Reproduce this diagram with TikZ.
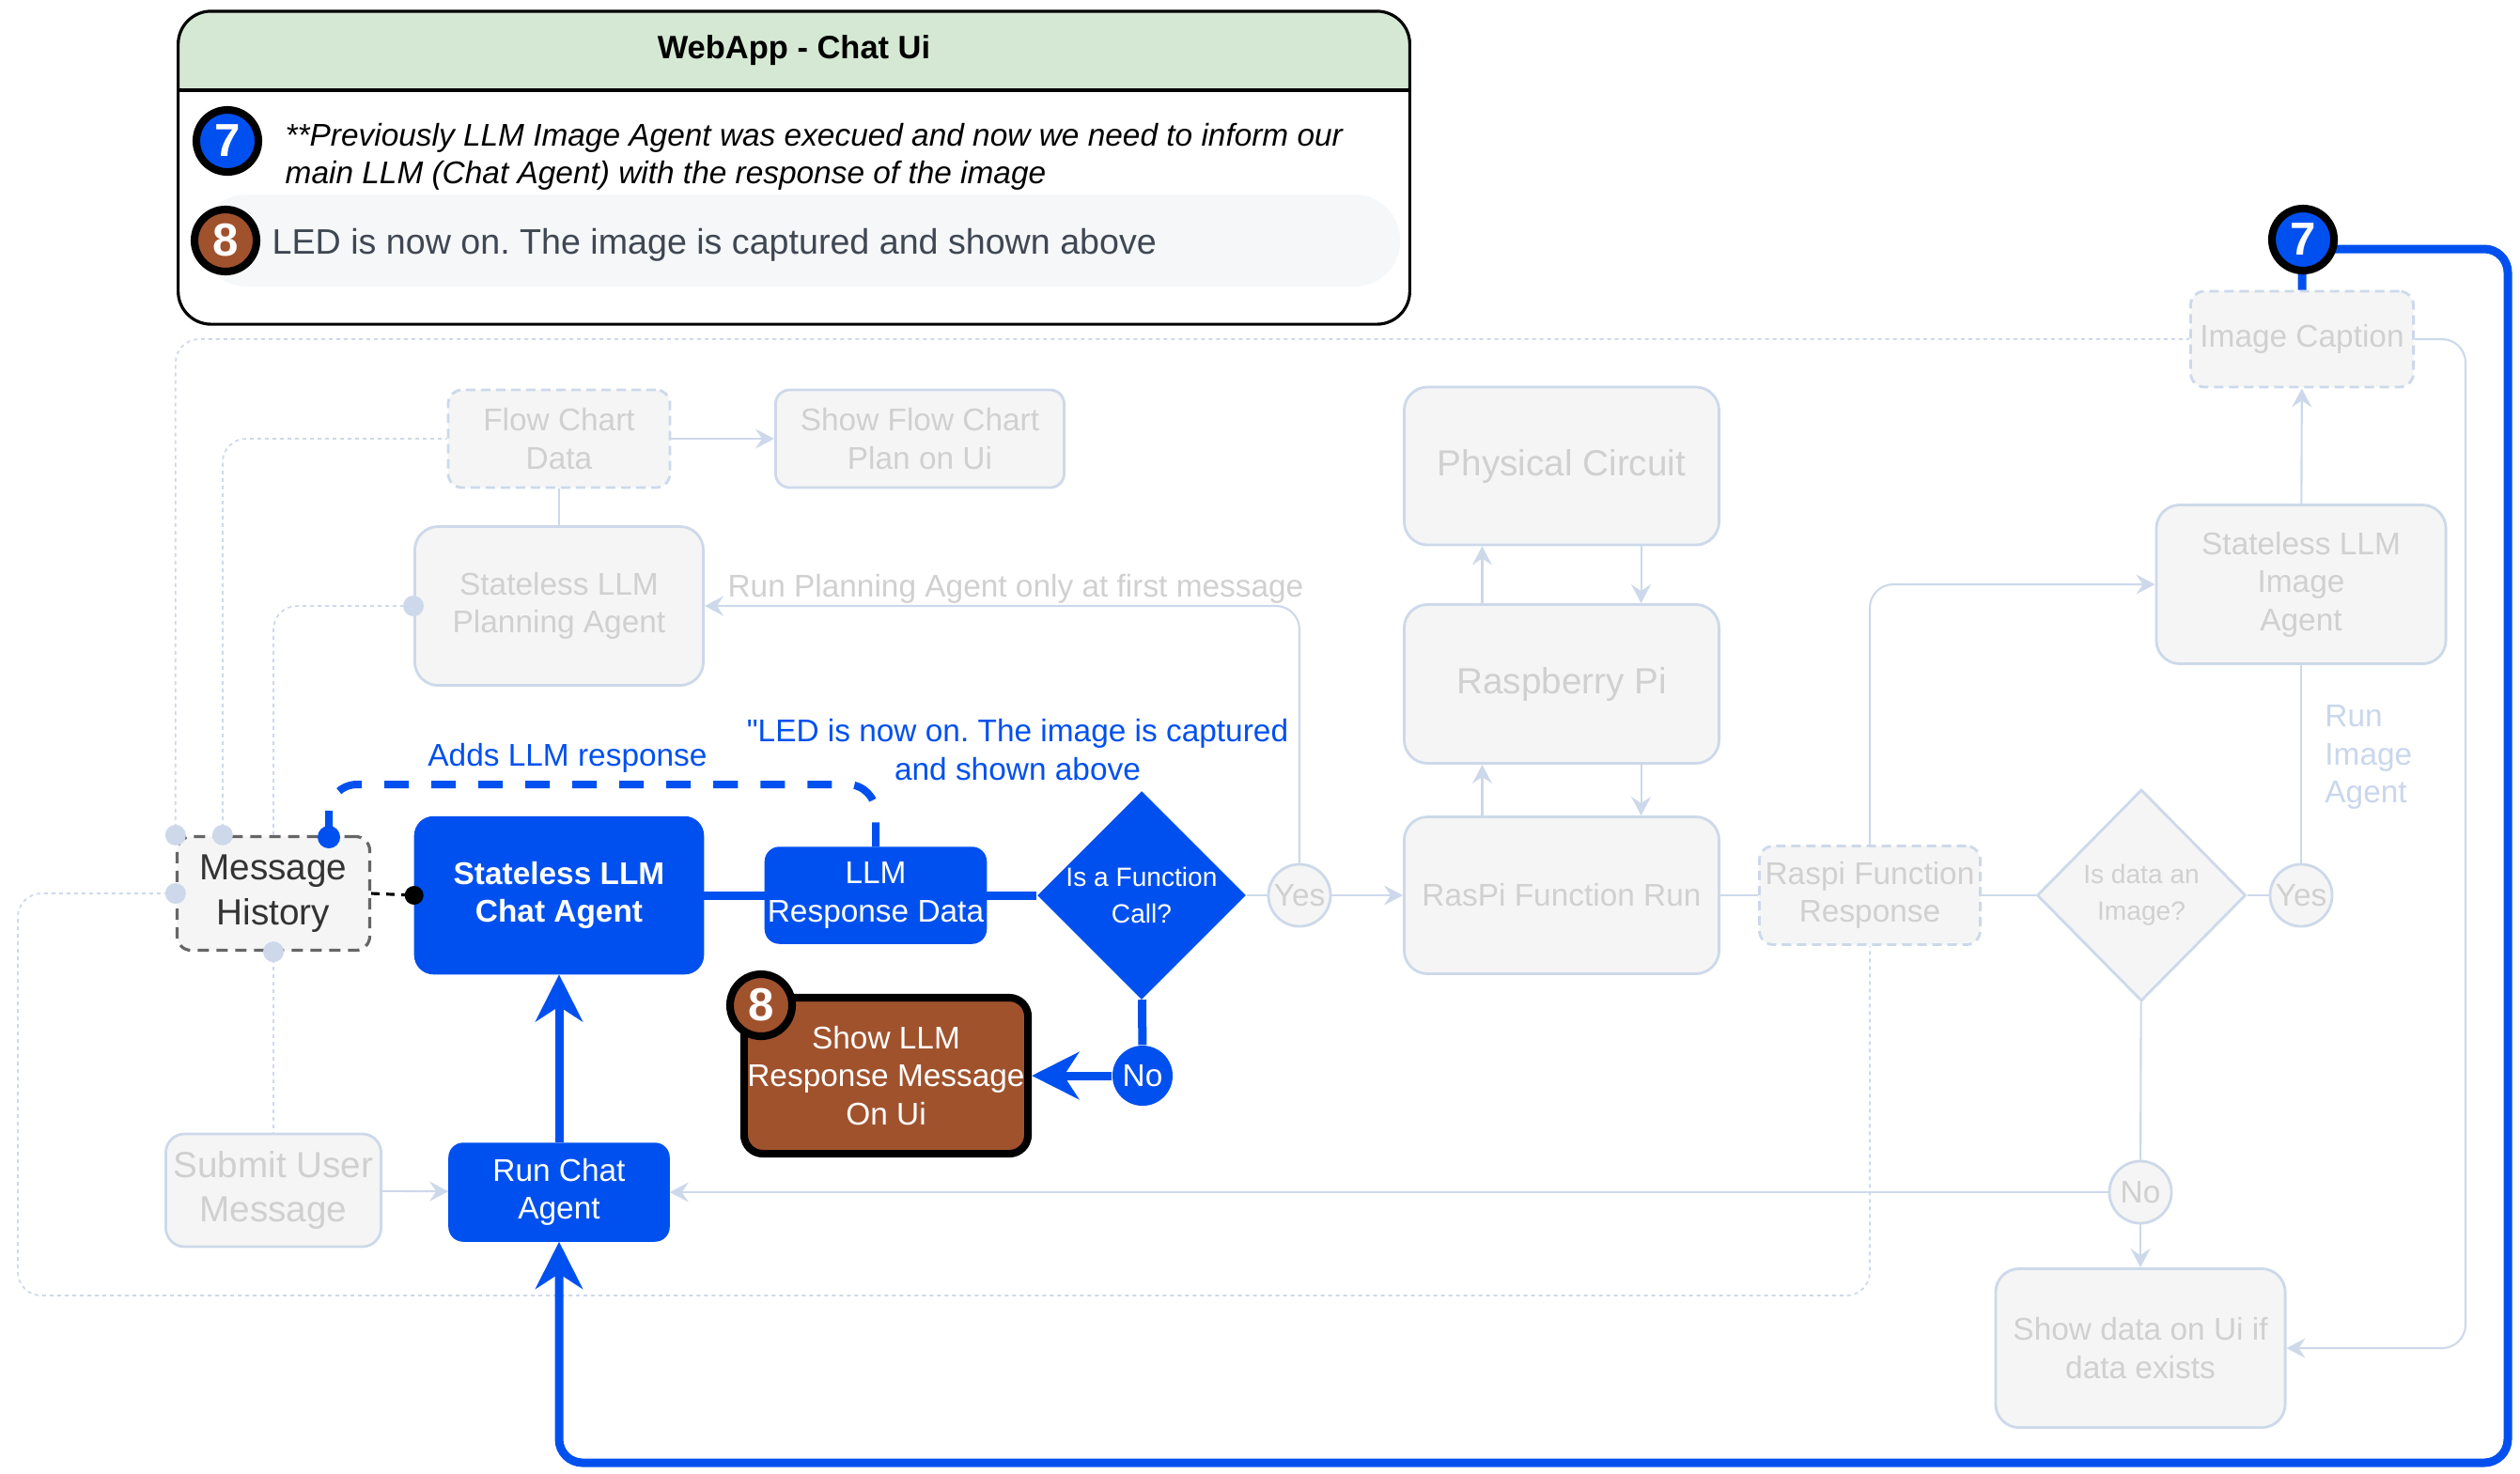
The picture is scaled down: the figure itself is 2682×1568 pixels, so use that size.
\documentclass[tikz,border=0pt]{standalone}
\usepackage{fontspec}
\setmainfont{Liberation Sans}
\usetikzlibrary{arrows.meta, shapes.geometric}
\definecolor{chatblue}{HTML}{0050EF}
\definecolor{rustbrown}{HTML}{A0522D}
\definecolor{headgreen}{HTML}{D5E8D4}
\definecolor{fadeline}{HTML}{CDD9EA}
\definecolor{fadefill}{HTML}{F5F5F5}
\definecolor{fadetext}{HTML}{D0D0D0}
\definecolor{fadeblue}{HTML}{C9D7EC}
\definecolor{pillgrey}{HTML}{F6F7F9}
\definecolor{pilltext}{HTML}{3F4753}
\newcommand\smalltxt{\fontsize{9.5}{11.5}\selectfont}
\newcommand\bigtxt{\fontsize{11}{13.5}\selectfont}
\newcommand\tinytxt{\fontsize{8}{11}\selectfont}
\frenchspacing
\tikzset{
fadebox/.style={draw=fadeline, fill=fadefill, text=fadetext, line width=0.8pt, rounded corners=0.25cm, align=center, inner sep=0, font=\smalltxt},
fadedash/.style={fadebox, dash pattern=on 0.1cm off 0.06cm, rounded corners=0.15cm},
bluebox/.style={fill=chatblue, draw=chatblue, text=white, rounded corners=0.2cm, align=center, inner sep=0, font=\smalltxt},
histbox/.style={draw=black!60, fill=fadefill, text=black!80, line width=0.9pt, dash pattern=on 0.12cm off 0.08cm, rounded corners=0.15cm, align=center, inner sep=0, font=\bigtxt},
showbox/.style={fill=rustbrown, draw=black, line width=2.3pt, text=white, rounded corners=0.2cm, align=center, inner sep=0, font=\smalltxt},
fadecirc/.style={circle, draw=fadeline, fill=fadefill, text=fadetext, line width=0.8pt, minimum size=0.66cm, inner sep=0, font=\smalltxt},
fadediam/.style={diamond, draw=fadeline, fill=fadefill, line width=0.8pt, inner sep=0},
badge/.style={circle, draw=black, line width=2.3pt, minimum size=0.66cm, inner sep=0, text=white, font=\bfseries\fontsize{14}{14}\selectfont},
faint/.style={draw=fadeline, line width=0.6pt},
faintarrow/.style={faint, -{Stealth[length=2mm,width=2.1mm,inset=0.7mm]}},
faintdot/.style={draw=fadeline, line width=0.5pt, dash pattern=on 0.04cm off 0.04cm},
thickblue/.style={draw=chatblue, line width=0.9mm},
bigarrow/.style={thickblue, -{Stealth[length=5mm,width=5mm,inset=1.6mm]}}
}
\begin{document}
\begin{tikzpicture}[x=0.01cm, y=-0.01cm]
\useasboundingbox (0,0) rectangle (2682,1568);

\begin{scope}
\clip (190,12) rectangle (1500,96);
\fill[headgreen, rounded corners=0.35cm] (190,12) rectangle (1500,345);
\end{scope}
\fill[pillgrey, rounded corners=0.48cm] (214,207) rectangle (1490,305);
\node[draw, line width=0.9pt, rounded corners=0.35cm, minimum width=13.1cm, minimum height=3.33cm] (webapp) at (845,178.5) {};
\draw[line width=0.9pt] (webapp.west |- 0,96) -- (webapp.east |- 0,96);
\node[font=\bfseries\fontsize{9.8}{12}\selectfont] (title) at (845,54) {WebApp - Chat Ui};
\node[badge, fill=chatblue] (noteseven) at (242,150) {7};
\node[anchor=west, align=left, inner sep=0, font=\itshape\smalltxt] (notetext) at (303,167) {**Previously LLM Image Agent was execued and now we need to inform our\\main LLM (Chat Agent) with the response of the image};
\node[badge, fill=rustbrown] (noteeight) at (240,256) {8};
\node[anchor=west, inner sep=0, text=pilltext, font=\fontsize{10.7}{13}\selectfont] (notereply) at (289,261) {LED is now on. The image is captured and shown above};

\node[fadedash, minimum width=2.36cm, minimum height=1.04cm] (flowdata) at (595,467) {Flow Chart\\Data};
\node[fadebox, minimum width=3.07cm, minimum height=1.04cm, rounded corners=0.15cm] (showplan) at (979,467) {Show Flow Chart\\Plan on Ui};
\node[fadebox, minimum width=3.07cm, minimum height=1.69cm] (planagent) at (595,645) {Stateless LLM\\Planning Agent};
\node[histbox, minimum width=2.05cm, minimum height=1.21cm] (msghist) at (291,951) {Message\\History};
\node[bluebox, font=\smalltxt\bfseries, minimum width=3.07cm, minimum height=1.67cm] (chatagent) at (595,953) {Stateless LLM\\Chat Agent};
\node[bluebox, minimum width=2.35cm, minimum height=1.02cm, rounded corners=0.15cm] (llmdata) at (932,953) {LLM\\Response Data};
\node[diamond, fill=chatblue, minimum width=2.22cm, minimum height=2.22cm, inner sep=0, label={[text=white, font=\tinytxt, align=center]center:{Is a Function\\Call?}}] (isfunc) at (1215,953) {};
\node[circle, fill=chatblue, minimum size=0.64cm, inner sep=0, text=white, font=\smalltxt] (nofunc) at (1216,1145) {No};
\node[showbox, minimum width=3.02cm, minimum height=1.66cm] (showllm) at (943,1145) {Show LLM\\Response Message\\On Ui};
\node[bluebox, minimum width=2.34cm, minimum height=1.04cm, rounded corners=0.15cm] (runchat) at (595,1269) {Run Chat\\Agent};
\node[fadebox, font=\bigtxt, minimum width=2.29cm, minimum height=1.2cm, rounded corners=0.2cm] (submit) at (291,1267) {Submit User\\Message};
\node[fadecirc] (yesfunc) at (1383,953) {Yes};
\node[fadebox, font=\bigtxt, minimum width=3.35cm, minimum height=1.68cm] (circuit) at (1662,496) {Physical Circuit};
\node[fadebox, font=\bigtxt, minimum width=3.35cm, minimum height=1.69cm] (raspi) at (1662,728) {Raspberry Pi};
\node[fadebox, minimum width=3.35cm, minimum height=1.67cm] (rasrun) at (1662,953) {RasPi Function Run};
\node[fadedash, minimum width=2.35cm, minimum height=1.05cm] (rasresp) at (1990,953) {Raspi Function\\Response};
\node[fadediam, minimum width=2.22cm, minimum height=2.25cm, label={[text=fadetext, font=\tinytxt, align=center]center:{Is data an\\Image?}}] (isimage) at (2279,953) {};
\node[fadecirc] (yesimage) at (2449,953) {Yes};
\node[fadecirc] (noimage) at (2278,1269) {No};
\node[fadebox, minimum width=3.08cm, minimum height=1.69cm] (showdata) at (2278,1435) {Show data on Ui if\\data exists};
\node[fadebox, minimum width=3.08cm, minimum height=1.69cm] (imgagent) at (2449,622) {Stateless LLM\\Image\\Agent};
\node[fadedash, minimum width=2.37cm, minimum height=1.02cm] (caption) at (2450,361) {Image Caption};
\coordinate (histdot) at (350,891);

\draw[faintdot, rounded corners=0.25cm] (msghist.north west) |- (caption.west);
\draw[faintdot, rounded corners=0.25cm] ([xshift=0.5cm]msghist.north west) |- (flowdata.west);
\draw[faintdot, rounded corners=0.25cm] (msghist.north) |- (planagent.west);
\draw[faintdot, rounded corners=0.25cm] (msghist.west) -| (19,1379) -| (rasresp.south);
\draw[faintdot] (msghist.south) -- (submit.north);
\foreach \spot in {msghist.north west, msghist.west, msghist.south, planagent.west}
  \fill[fadeline] (\spot) circle [radius=0.11cm];
\fill[fadeline] ([xshift=0.5cm]msghist.north west) circle [radius=0.11cm];

\draw[faintarrow] (flowdata) -- (showplan);
\draw[faint] (flowdata) -- (planagent);
\draw[faintarrow, rounded corners=0.25cm] (yesfunc.north) |- (planagent.east);
\node[text=fadetext, font=\smalltxt] (planlabel) at (1081,627) {Run Planning Agent only at first message};
\draw[faint] (isfunc) -- (yesfunc);
\draw[faintarrow] (yesfunc) -- (rasrun);
\draw[faintarrow] ([xshift=-0.845cm]raspi.north) -- ([xshift=-0.845cm]circuit.south);
\draw[faintarrow] ([xshift=0.845cm]circuit.south) -- ([xshift=0.845cm]raspi.north);
\draw[faintarrow] ([xshift=-0.845cm]rasrun.north) -- ([xshift=-0.845cm]raspi.south);
\draw[faintarrow] ([xshift=0.845cm]raspi.south) -- ([xshift=0.845cm]rasrun.north);
\draw[faint] (rasrun) -- (rasresp);
\draw[faint] (rasresp) -- (isimage);
\draw[faint] (isimage) -- (yesimage);
\draw[faintarrow, rounded corners=0.25cm] (rasresp.north) |- (imgagent.west);
\draw[faint] (yesimage) -- (imgagent);
\node[text=fadeblue, font=\smalltxt, align=left, anchor=west] (runimglabel) at (2462,806) {Run\\Image\\Agent};
\draw[faintarrow] (imgagent) -- (caption);
\draw[faintarrow, rounded corners=0.25cm] (caption.east) -| (2624,1435) -- (showdata.east);
\draw[faint] (isimage) -- (noimage);
\draw[faintarrow] (noimage) -- (showdata);
\draw[faintarrow] (noimage) -- (runchat);
\draw[faintarrow] (submit) -- (runchat);

\draw[line width=0.9pt, dash pattern=on 0.09cm off 0.07cm] (msghist.east) -- (chatagent.west);
\fill (chatagent.west) circle [radius=0.1cm];
\draw[thickblue, line width=0.8mm, dash pattern=on 0.26cm off 0.24cm, rounded corners=0.3cm] (llmdata.north) |- (350,835) -- (histdot);
\fill[chatblue] (histdot) circle [radius=0.12cm];
\node[text=chatblue, font=\smalltxt] (addslabel) at (604,807) {Adds LLM response};
\node[text=chatblue, font=\smalltxt, align=center] (quotelabel) at (1083,798) {\textquotedbl LED is now on. The image is captured\\and shown above};

\draw[thickblue] (chatagent) -- (llmdata);
\draw[thickblue] (llmdata) -- (isfunc);
\draw[thickblue] (isfunc) -- (nofunc);
\draw[bigarrow] (nofunc) -- (showllm);
\draw[bigarrow] (runchat) -- (chatagent);
\draw[bigarrow, rounded corners=0.25cm] (caption.north) |- (2669,265) -- (2669,1557) -| (runchat.south);

\node[badge, fill=rustbrown] (badgeeight) at (810,1070) {8};
\node[badge, fill=chatblue] (badgeseven) at (2451,255) {7};
\end{tikzpicture}
\end{document}
